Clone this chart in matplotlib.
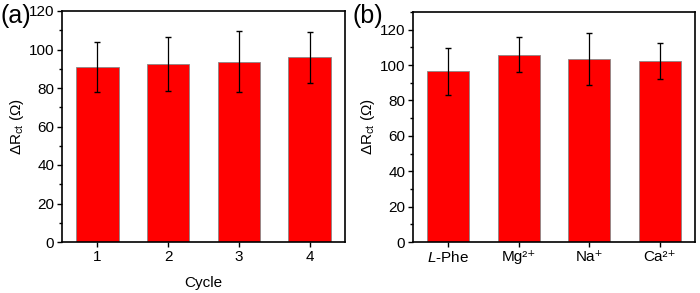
import matplotlib
matplotlib.use("Agg")
import matplotlib.pyplot as plt
import numpy as np
from matplotlib.ticker import MultipleLocator

plt.rcParams['font.family'] = ['Liberation Sans', 'DejaVu Sans']
plt.rcParams['mathtext.fontset'] = 'custom'
plt.rcParams['mathtext.rm'] = 'Liberation Sans'
plt.rcParams['mathtext.it'] = 'Liberation Sans:italic'

cycles = ['1', '2', '3', '4']
cycle_vals = [91.0, 92.6, 93.6, 96.0]
cycle_err = [13.0, 14.0, 15.8, 13.2]

species = ['$L$-Phe', 'Mg²⁺', 'Na⁺', 'Ca²⁺']
species_vals = [96.5, 105.8, 103.5, 102.2]
species_err = [13.2, 9.8, 14.6, 10.2]

fig = plt.figure(figsize=(7.0, 2.93), dpi=100)
axa = fig.add_axes([62/700, 1-242/293, 283/700, 231/293])
axb = fig.add_axes([413/700, 1-242/293, 282/700, 230/293])

def draw(ax, labels, vals, errs, ymax, xlabel):
    x = np.arange(1, len(vals) + 1)
    ax.bar(x, vals, width=0.6, color='#ff0000', edgecolor='#888888', linewidth=0.6, zorder=2)
    ax.errorbar(x, vals, yerr=errs, fmt='none', ecolor='black', elinewidth=0.9,
                capsize=2.2, capthick=1.0, zorder=3)
    ax.set_xlim(0.5, 4.5)
    ax.set_ylim(0, ymax)
    ax.set_xticks(x)
    ax.set_xticklabels(labels)
    ax.yaxis.set_major_locator(MultipleLocator(20))
    ax.yaxis.set_minor_locator(MultipleLocator(10))
    ax.tick_params(axis='both', which='major', direction='out', length=3.5, width=1,
                   labelsize=11, top=False, right=False, pad=2)
    ax.tick_params(axis='y', which='minor', direction='out', length=2, width=1)
    for s in ax.spines.values():
        s.set_linewidth(1.2)
    ax.set_ylabel(r'$\Delta$R$_{\mathrm{ct}}$ ($\Omega$)', fontsize=11, labelpad=2)
    if xlabel:
        ax.set_xlabel(xlabel, fontsize=11, labelpad=9)

draw(axa, cycles, cycle_vals, cycle_err, 120, 'Cycle')
draw(axb, species, species_vals, species_err, 130, None)

fig.text(0/700, 1-16/293, '(a)', fontsize=18, va='center', ha='left')
fig.text(352/700, 1-16/293, '(b)', fontsize=18, va='center', ha='left')

fig.savefig('out.png', dpi=100)
